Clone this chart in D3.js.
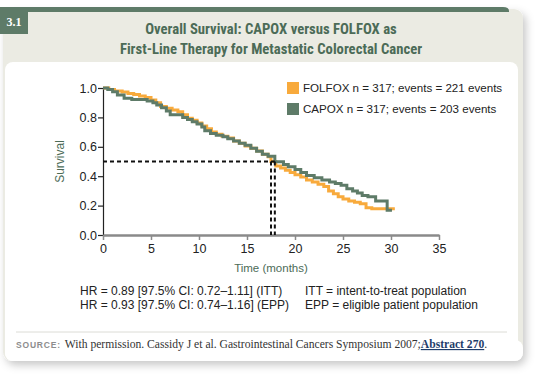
<!DOCTYPE html>
<html>
<head>
<meta charset="utf-8">
<script src="https://cdn.jsdelivr.net/npm/d3@7"></script>
<style>
  body { margin: 0; background: #fff; }
  svg { display: block; }
</style>
</head>
<body>
<div id="wrapper"></div>
<script>
// FOLFOX (orange) Kaplan-Meier steps
const folfoxTime = [0, 0.6, 1.2, 2, 2.6, 3.2, 3.8, 4.4, 5, 5.5, 6, 6.6, 7.2, 7.8, 8.3, 8.8, 9.3, 9.8, 10.3, 10.8,
    11.3, 11.8, 12.4, 13, 13.6, 14.2, 14.8, 15.4, 16, 16.6, 17.2, 17.5, 18, 18.5, 19, 19.5, 20, 20.6, 21.2, 21.8,
    22.4, 23, 23.5, 24, 24.5, 25, 25.6, 26.2, 26.8, 27.4, 28, 30.4];
const folfoxSurv = [1.0, 0.99, 0.98, 0.972, 0.963, 0.955, 0.945, 0.935, 0.918, 0.9, 0.875, 0.862, 0.85, 0.838, 0.818,
    0.795, 0.78, 0.762, 0.742, 0.722, 0.7, 0.685, 0.672, 0.66, 0.64, 0.625, 0.605, 0.59, 0.572, 0.55, 0.532, 0.5,
    0.47, 0.455, 0.44, 0.425, 0.41, 0.395, 0.375, 0.36, 0.345, 0.33, 0.3, 0.28, 0.26, 0.245, 0.232, 0.222, 0.212,
    0.185, 0.178, 0.178];

// CAPOX (green)
const capoxTime = [0, 0.5, 1, 1.5, 2.2, 3, 4.6, 5.2, 5.6, 6.1, 6.6, 7, 8.3, 8.8, 9.3, 9.8, 10.3, 10.6, 11.2, 11.8,
    12.5, 13, 13.6, 14.2, 14.8, 15.4, 16, 16.6, 17.2, 17.9, 18.8, 19.3, 20, 20.6, 21.2, 22, 22.8, 23.6, 24.2, 24.8,
    25.4, 26, 26.5, 27, 27.6, 28.4, 29.6, 30.1];
const capoxSurv = [1.0, 0.99, 0.975, 0.952, 0.93, 0.922, 0.912, 0.9, 0.884, 0.865, 0.843, 0.818, 0.8, 0.785, 0.77,
    0.755, 0.735, 0.71, 0.69, 0.678, 0.668, 0.655, 0.64, 0.625, 0.61, 0.59, 0.57, 0.55, 0.535, 0.499, 0.48, 0.465,
    0.445, 0.425, 0.405, 0.39, 0.375, 0.36, 0.35, 0.338, 0.315, 0.3, 0.285, 0.268, 0.26, 0.232, 0.168, 0.168];

const medianFolfox = 17.5;
const medianCapox = 17.9;

const xTicks = [0, 5, 10, 15, 20, 25, 30, 35];
const yTicks = [0, 0.2, 0.4, 0.6, 0.8, 1.0];

const legendLabels = ["FOLFOX n = 317; events = 221 events", "CAPOX n = 317; events = 203 events"];
const noteLeft = ["HR = 0.89 [97.5% CI: 0.72\u20131.11] (ITT)", "HR = 0.93 [97.5% CI: 0.74\u20131.16] (EPP)"];
const noteRight = ["ITT = intent-to-treat population", "EPP = eligible patient population"];

const orange = "#f8aa3c";
const green = "#5e7b68";
const darkGreen = "#4c6b57";

let dimensions = {
    width: 540,
    height: 377,
    margin: { top: 88, right: 101, bottom: 142, left: 103 }
}
dimensions.boundedWidth = dimensions.width - dimensions.margin.left - dimensions.margin.right;
dimensions.boundedHeight = dimensions.height - dimensions.margin.top - dimensions.margin.bottom;

let svg = d3.select("#wrapper")
    .append("svg")
    .attr("width", dimensions.width)
    .attr("height", dimensions.height)
    .style("font-family", "'Liberation Sans', Arial, sans-serif");

let defs = svg.append("defs");
let shadow = defs.append("filter").attr("id", "shadow")
    .attr("x", "-5%").attr("y", "-5%").attr("width", "115%").attr("height", "120%");
shadow.append("feDropShadow")
    .attr("dx", 3).attr("dy", 4).attr("stdDeviation", 4)
    .attr("flood-color", "#000").attr("flood-opacity", 0.22);

// card
svg.append("rect")
    .attr("x", 3).attr("y", 9).attr("width", 520).attr("height", 352)
    .attr("rx", 9)
    .attr("fill", "#ebebe3")
    .attr("filter", "url(#shadow)");
svg.append("rect")
    .attr("x", 5).attr("y", 62).attr("width", 513).attr("height", 299)
    .attr("rx", 8)
    .attr("fill", "#fff");
svg.append("rect")
    .attr("x", 5).attr("y", 340).attr("width", 518).attr("height", 21)
    .attr("rx", 8)
    .attr("fill", "#fff");

// top bar and figure number
svg.append("path")
    .attr("d", "M0,7 H503 Q509,7 509,11 V12 H0 Z")
    .attr("fill", green);
svg.append("rect")
    .attr("x", 0).attr("y", 9).attr("width", 28).attr("height", 25)
    .attr("fill", green);
svg.append("text")
    .attr("x", 14).attr("y", 26)
    .attr("text-anchor", "middle")
    .attr("fill", "#fff")
    .style("font-family", "'Liberation Serif', 'DejaVu Serif', serif")
    .style("font-weight", "bold")
    .style("font-size", "12px")
    .text("3.1");

// title
let title = svg.append("text")
    .attr("text-anchor", "middle")
    .attr("fill", darkGreen)
    .style("font-family", "'Liberation Sans Narrow', 'Roboto Condensed', 'Liberation Sans', sans-serif")
    .style("font-weight", "bold")
    .style("font-size", "14.7px");
title.append("tspan").attr("x", 271).attr("y", 34).text("Overall Survival: CAPOX versus FOLFOX as");
title.append("tspan").attr("x", 271).attr("y", 54).text("First-Line Therapy for Metastatic Colorectal Cancer");

let bounds = svg.append("g")
    .attr("transform", "translate(" + dimensions.margin.left + "," + dimensions.margin.top + ")");

let xScale = d3.scaleLinear()
    .domain([0, 35])
    .range([0, dimensions.boundedWidth]);

let yScale = d3.scaleLinear()
    .domain([0, 1])
    .range([dimensions.boundedHeight, 0]);

// y axis
let yAxis = bounds.append("g")
    .call(d3.axisLeft(yScale).tickValues(yTicks).tickFormat(d3.format(".1f")).tickSize(5).tickPadding(1));
yAxis.select(".domain").attr("stroke", "#222").attr("stroke-width", 1.2);
yAxis.selectAll(".tick line").attr("stroke", "#222").attr("stroke-width", 1.2);
yAxis.selectAll(".tick text")
    .attr("fill", "#222")
    .style("font-size", "12.5px")
    .style("font-family", "'Liberation Sans', Arial, sans-serif");

// x axis
let xAxis = bounds.append("g")
    .attr("transform", "translate(0," + dimensions.boundedHeight + ")")
    .call(d3.axisBottom(xScale).tickValues(xTicks).tickSize(5).tickPadding(4).tickSizeOuter(0));
xAxis.select(".domain").attr("stroke", "#8a8a8a").attr("stroke-width", 2.5);
xAxis.selectAll(".tick line").attr("stroke", "#8a8a8a").attr("stroke-width", 1.5);
xAxis.selectAll(".tick text")
    .attr("fill", "#222")
    .style("font-size", "12.5px")
    .style("font-family", "'Liberation Sans', Arial, sans-serif");

// axis titles
bounds.append("text")
    .attr("transform", "translate(-39," + (yScale(0.5)) + ") rotate(-90)")
    .attr("text-anchor", "middle")
    .attr("fill", darkGreen)
    .style("font-size", "12px")
    .text("Survival");

bounds.append("text")
    .attr("x", xScale(17.5))
    .attr("y", dimensions.boundedHeight + 37)
    .attr("text-anchor", "middle")
    .attr("fill", darkGreen)
    .style("font-size", "11.5px")
    .text("Time (months)");

// survival curves
let line = d3.line()
    .x(d => xScale(d[0]))
    .y(d => yScale(d[1]))
    .curve(d3.curveStepAfter);

let folfoxData = folfoxTime.map((t, i) => [t, folfoxSurv[i]]);
let capoxData = capoxTime.map((t, i) => [t, capoxSurv[i]]);

bounds.append("path")
    .datum(folfoxData)
    .attr("d", line)
    .attr("fill", "none")
    .attr("stroke", orange)
    .attr("stroke-width", 3);

bounds.append("path")
    .datum(capoxData)
    .attr("d", line)
    .attr("fill", "none")
    .attr("stroke", green)
    .attr("stroke-width", 3);

// median lines
let dash = bounds.append("g")
    .attr("stroke", "#111")
    .attr("stroke-width", 2)
    .attr("stroke-dasharray", "4,3")
    .attr("fill", "none");
dash.append("line")
    .attr("x1", xScale(0)).attr("x2", xScale(medianCapox))
    .attr("y1", yScale(0.5)).attr("y2", yScale(0.5));
dash.append("line")
    .attr("x1", xScale(medianFolfox)).attr("x2", xScale(medianFolfox))
    .attr("y1", yScale(0.5)).attr("y2", yScale(0));
dash.append("line")
    .attr("x1", xScale(medianCapox)).attr("x2", xScale(medianCapox))
    .attr("y1", yScale(0.5)).attr("y2", yScale(0));

// legend
let legend = svg.append("g")
    .attr("transform", "translate(287,82)");
let items = legend.selectAll("g")
    .data(legendLabels)
    .enter()
    .append("g")
    .attr("transform", (d, i) => "translate(0," + (i * 21) + ")");
items.append("rect")
    .attr("width", 12).attr("height", 12)
    .attr("fill", (d, i) => i === 0 ? orange : green);
items.append("text")
    .attr("x", 16).attr("y", 10)
    .attr("fill", "#222")
    .style("font-size", "11.6px")
    .text(d => d);

// notes
let notes = svg.append("g")
    .attr("fill", "#222")
    .style("font-size", "12px");
notes.selectAll(".nl")
    .data(noteLeft)
    .enter()
    .append("text")
    .attr("x", 80)
    .attr("y", (d, i) => 295 + i * 14)
    .text(d => d);
notes.selectAll(".nr")
    .data(noteRight)
    .enter()
    .append("text")
    .attr("x", 305)
    .attr("y", (d, i) => 295 + i * 14)
    .text(d => d);

// source
svg.append("line")
    .attr("x1", 16).attr("x2", 507)
    .attr("y1", 332).attr("y2", 332)
    .attr("stroke", "#dcdcd6")
    .attr("stroke-width", 1);

let source = svg.append("text")
    .attr("x", 16).attr("y", 348)
    .style("font-family", "'Liberation Serif', 'DejaVu Serif', serif")
    .style("font-size", "11.6px")
    .attr("fill", "#333");
source.append("tspan")
    .style("font-family", "'Liberation Sans', Arial, sans-serif")
    .style("font-weight", "bold")
    .style("font-size", "8.5px")
    .style("letter-spacing", "0.8px")
    .attr("fill", "#8d8d8d")
    .text("SOURCE:");
source.append("tspan")
    .attr("dx", 4)
    .text("With permission. Cassidy J et al. Gastrointestinal Cancers Symposium 2007;");
source.append("tspan")
    .style("font-weight", "bold")
    .style("text-decoration", "underline")
    .attr("fill", "#1f3d6b")
    .text("Abstract 270");
source.append("tspan")
    .text(".");
</script>
</body>
</html>
